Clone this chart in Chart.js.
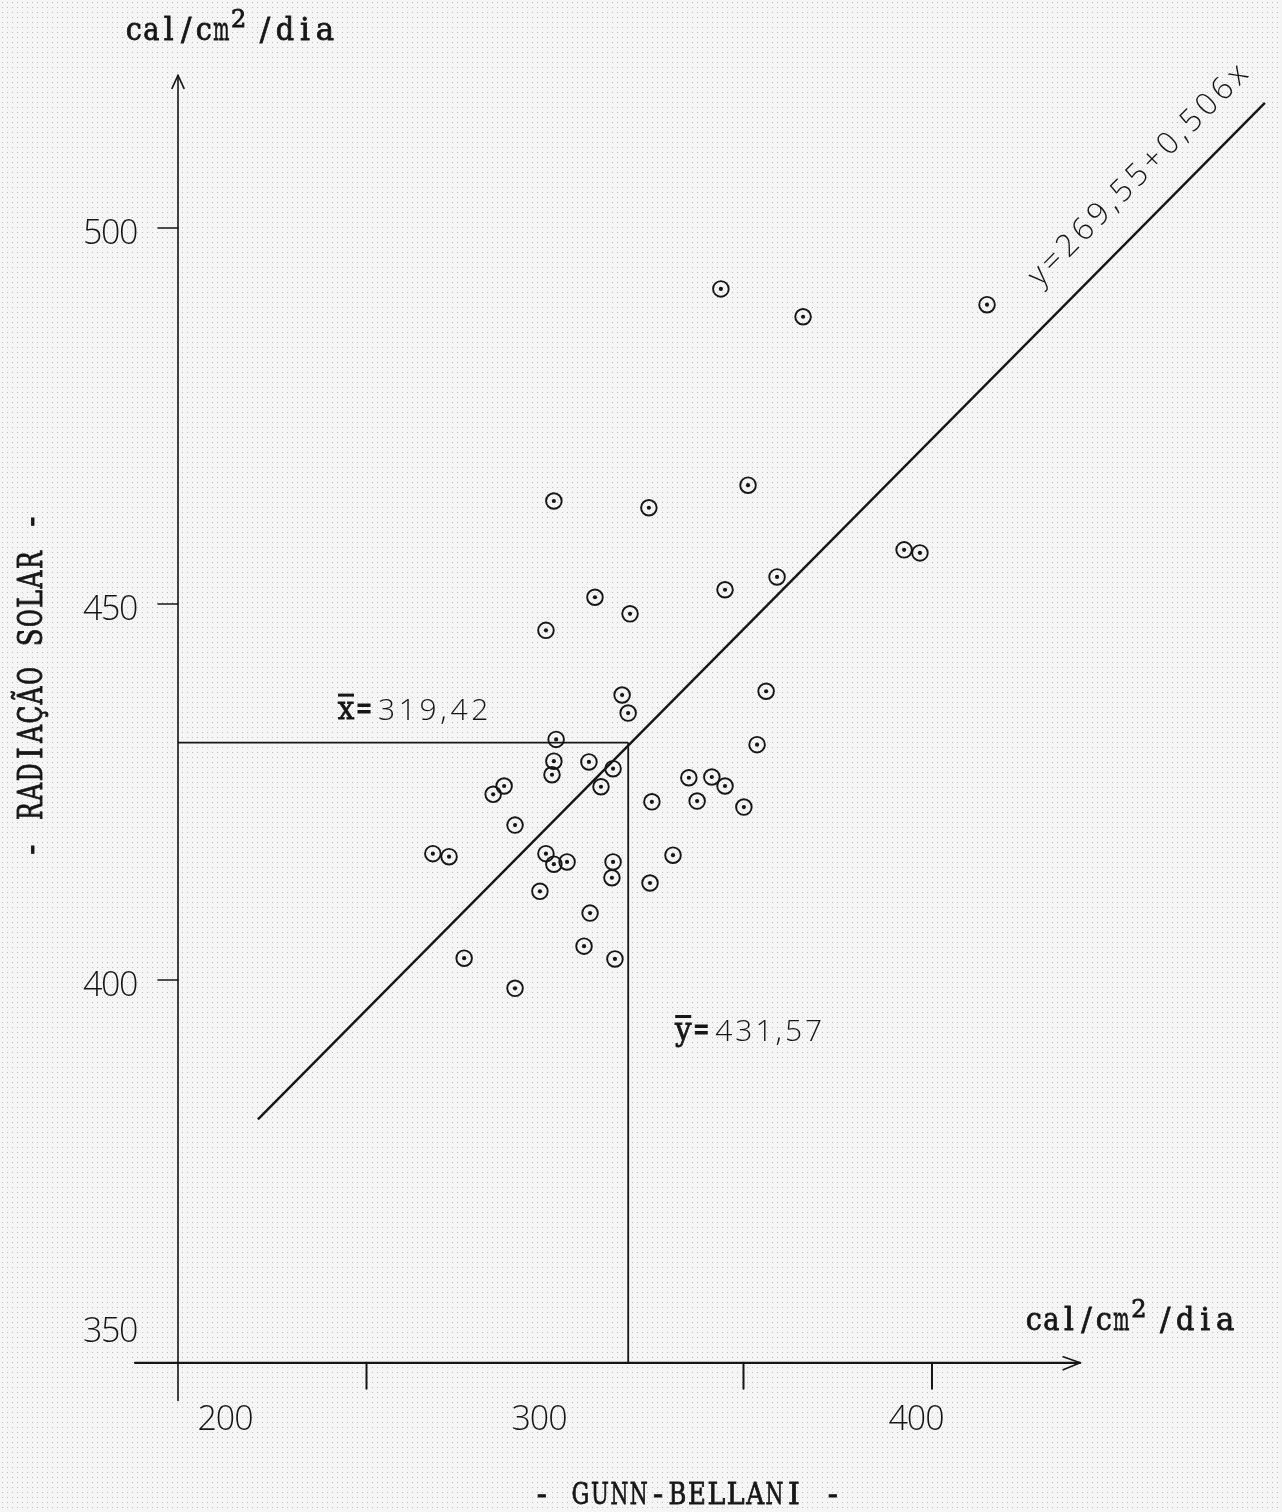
<!DOCTYPE html>
<html lang="pt">
<head>
<meta charset="utf-8">
<title>Radiação solar x Gunn-Bellani</title>
<script src="https://cdn.jsdelivr.net/npm/chart.js"></script>
<style>
  body { margin: 0; background-color: #f5f5f5;
         background-image: radial-gradient(circle, #bdbdbd 0.7px, transparent 1px);
         background-size: 5px 5px; }
  canvas { display: block; }
</style>
</head>
<body>
<canvas id="grafico" width="1282" height="1512"></canvas>
<script>
// leituras diarias: Gunn-Bellani (x) e radiacao solar (y), cal/cm2/dia
const gunnBellani = [344.0, 365.8, 414.6, 299.7, 324.9, 351.2, 392.6, 396.8, 358.9, 345.1,
                     310.6, 319.9, 297.6, 317.8, 319.4, 356.0, 353.6, 300.3, 299.7, 309.0,
                     299.2, 315.4, 312.2, 335.5, 341.6, 345.1, 337.7, 325.7, 350.1, 283.6,
                     286.5, 289.4, 267.6, 271.9, 297.6, 299.7, 303.2, 315.4, 315.1, 331.3,
                     325.2, 296.0, 309.3, 307.7, 275.9, 315.9, 289.4];
const radiacao    = [491.9, 488.2, 489.8, 463.7, 462.8, 465.8, 457.2, 456.8, 453.6, 451.9,
                     450.9, 448.7, 446.5, 437.9, 435.5, 438.4, 431.3, 432.0, 429.1, 429.0,
                     427.3, 428.1, 425.7, 426.9, 427.0, 425.8, 423.8, 423.7, 423.0, 424.7,
                     425.8, 420.6, 416.8, 416.4, 416.8, 415.4, 415.7, 415.7, 413.6, 416.6,
                     412.9, 411.8, 408.9, 404.5, 402.9, 402.8, 398.9];

const mediaX = 319.42;
const mediaY = 431.57;
const coefA = 269.55;   // y = a + b x
const coefB = 0.506;
const retaX = [221.2, 488.3];

const xTicks = [200, 300, 400];
const xMarcas = [250, 350, 400];
const yTicks = [350, 400, 450, 500];
const yMarcas = [400, 450, 500];
const origem = { x: 200, y: 349.1 };
const eixoX = [188.6, 439.3];
const eixoY = [344.1, 520.3];

const tinta = '#161616';
const serifa = '"DejaVu Serif", "Liberation Serif", serif';
const normografo = '"Open Sans", Roboto, "DejaVu Sans", sans-serif';

const pontos = gunnBellani.map((v, i) => ({ x: v, y: radiacao[i] }));

// texto de normografo, esticado ate a largura pedida
function texto(ctx, s, x, y, fonte, o = {}) {
  ctx.save();
  ctx.translate(x, y);
  if (o.rot) ctx.rotate(o.rot);
  ctx.font = fonte;
  ctx.fillStyle = tinta;
  let w = ctx.measureText(s).width;
  if (o.largura) {
    if ('letterSpacing' in ctx) {
      ctx.letterSpacing = ((o.largura - w) / s.length) + 'px';
      w = ctx.measureText(s).width;
    } else {
      ctx.scale(o.largura / w, 1);
    }
  }
  let x0 = 0;
  if (o.align === 'center') x0 = -w / 2;
  if (o.align === 'right') x0 = -w;
  ctx.fillText(s, x0, 0);
  ctx.restore();
}

// texto de maquina de escrever: cada letra numa celula de passo fixo
function datilo(ctx, s, x, y, passo, fonte, o = {}) {
  ctx.save();
  ctx.translate(x, y);
  if (o.rot) ctx.rotate(o.rot);
  if (o.sy) ctx.scale(1, o.sy);
  ctx.font = fonte;
  ctx.fillStyle = tinta;
  ctx.strokeStyle = tinta;
  ctx.lineWidth = 0.8;
  ctx.textAlign = 'center';
  const x0 = o.align === 'center' ? -passo * s.length / 2 : 0;
  [...s].forEach((c, i) => {
    const w = ctx.measureText(c).width;
    const k = Math.min(1, passo * 0.92 / w);
    ctx.save();
    ctx.translate(x0 + passo * (i + 0.5), 0);
    ctx.scale(k, 1);
    ctx.fillText(c, 0, 0);
    ctx.strokeText(c, 0, 0);
    ctx.restore();
  });
  ctx.restore();
}

function unidade(ctx, x, y) {
  const f = '31px ' + serifa;
  datilo(ctx, 'cal/cm', x, y, 17.5, f);
  datilo(ctx, '2', x + 105, y - 13, 17.5, '24px ' + serifa);
  datilo(ctx, '/dia', x + 130, y, 20, f);
}

function media(ctx, letra, valor, x, base, largura) {
  ctx.save();
  ctx.fillStyle = tinta;
  datilo(ctx, letra, x, base - 1, 18, '31px ' + serifa);
  ctx.fillRect(x + 1, base - 26, 16, 3);
  datilo(ctx, '=', x + 18, base - 1, 18, '31px ' + serifa);
  ctx.restore();
  texto(ctx, valor, x + 41, base, '300 30px ' + normografo, { largura: largura });
}

function linha(ctx, x1, y1, x2, y2) {
  ctx.beginPath();
  ctx.moveTo(x1, y1);
  ctx.lineTo(x2, y2);
  ctx.stroke();
}

const desenho = {
  id: 'desenho',
  beforeDatasetsDraw(chart) {
    const { ctx, scales: { x, y } } = chart;
    const ox = x.getPixelForValue(origem.x), oy = y.getPixelForValue(origem.y);
    ctx.save();
    ctx.strokeStyle = tinta;
    ctx.lineCap = 'round';

    // eixo vertical com seta
    ctx.lineWidth = 1.6;
    const topo = y.getPixelForValue(eixoY[1]);
    linha(ctx, ox, y.getPixelForValue(eixoY[0]), ox, topo);
    linha(ctx, ox, topo, ox - 6, topo + 13);
    linha(ctx, ox, topo, ox + 6, topo + 13);
    yMarcas.forEach(v => linha(ctx, ox - 20, y.getPixelForValue(v), ox, y.getPixelForValue(v)));

    // eixo horizontal com seta
    ctx.lineWidth = 2.3;
    const fim = x.getPixelForValue(eixoX[1]);
    linha(ctx, x.getPixelForValue(eixoX[0]), oy, fim, oy);
    ctx.lineWidth = 1.6;
    linha(ctx, fim, oy, fim - 17, oy - 6);
    linha(ctx, fim, oy, fim - 17, oy + 7);
    ctx.lineWidth = 2;
    xMarcas.forEach(v => linha(ctx, x.getPixelForValue(v), oy, x.getPixelForValue(v), oy + 26));
    ctx.restore();
  },
  afterDatasetsDraw(chart) {
    const { ctx, scales: { x, y } } = chart;
    const ox = x.getPixelForValue(origem.x), oy = y.getPixelForValue(origem.y);
    const fonteNum = '300 34px ' + normografo;

    yTicks.forEach(v => {
      const dy = v === yTicks[0] ? -14 : 16;
      texto(ctx, String(v), ox - 41, y.getPixelForValue(v) + dy, fonteNum, { align: 'right', largura: 54 });
    });
    xTicks.forEach(v => {
      const dx = v === origem.x ? 47 : -16;
      texto(ctx, String(v), x.getPixelForValue(v) + dx, oy + 67, fonteNum, { align: 'center', largura: 55 });
    });

    // unidades
    unidade(ctx, ox - 53, y.getPixelForValue(eixoY[1]) - 35);
    unidade(ctx, x.getPixelForValue(eixoX[1]) - 55, oy - 33);

    // titulos dos eixos
    datilo(ctx, '- RADIAÇÃO SOLAR -', 42, y.getPixelForValue(mediaY) - 57, 19.3, '30px ' + serifa,
      { align: 'center', rot: -Math.PI / 2, sy: 1.12 });
    datilo(ctx, '- GUNN-BELLANI -', x.getPixelForValue(mediaX) + 59, oy + 141, 19.4, '30px ' + serifa,
      { align: 'center' });

    // medias
    media(ctx, 'x', '319,42', ox + 159, y.getPixelForValue(mediaY) - 23, 114);
    media(ctx, 'y', '431,57', x.getPixelForValue(mediaX) + 46, y.getPixelForValue(400) + 61, 110);

    // equacao da reta
    const xa = 434.3;
    const p1 = { x: x.getPixelForValue(xa), y: y.getPixelForValue(coefA + coefB * xa) };
    const p2 = { x: x.getPixelForValue(retaX[1]), y: y.getPixelForValue(coefA + coefB * retaX[1]) };
    const ang = Math.atan2(p2.y - p1.y, p2.x - p1.x);
    const nx = Math.sin(ang) * 30, ny = -Math.cos(ang) * 30;
    texto(ctx, 'y=269,55+0,506x', p1.x + nx, p1.y + ny, '300 31px ' + normografo,
      { rot: ang, largura: 302 });
  }
};

new Chart(document.getElementById('grafico'), {
  type: 'scatter',
  data: {
    datasets: [
      { data: pontos, pointStyle: 'circle', pointRadius: 7.8, borderWidth: 1.9,
        borderColor: tinta, backgroundColor: 'rgba(0,0,0,0)' },
      { data: pontos, pointStyle: 'circle', pointRadius: 2.1, borderWidth: 0,
        backgroundColor: tinta },
      { type: 'line', data: retaX.map(v => ({ x: v, y: coefA + coefB * v })),
        borderColor: tinta, borderWidth: 2.4, pointRadius: 0, fill: false },
      { type: 'line', data: [{ x: origem.x, y: mediaY }, { x: mediaX, y: mediaY }],
        borderColor: tinta, borderWidth: 1.6, pointRadius: 0, fill: false },
      { type: 'line', data: [{ x: mediaX, y: origem.y }, { x: mediaX, y: mediaY }],
        borderColor: tinta, borderWidth: 1.8, pointRadius: 0, fill: false }
    ]
  },
  options: {
    responsive: false,
    animation: false,
    devicePixelRatio: 1,
    events: [],
    layout: { padding: 0, autoPadding: false },
    plugins: { legend: { display: false }, tooltip: { enabled: false } },
    scales: {
      x: { type: 'linear', min: 152.785, max: 492.84, display: false },
      y: { type: 'linear', min: 329.26, max: 530.32, display: false }
    }
  },
  plugins: [desenho]
});
</script>
</body>
</html>
